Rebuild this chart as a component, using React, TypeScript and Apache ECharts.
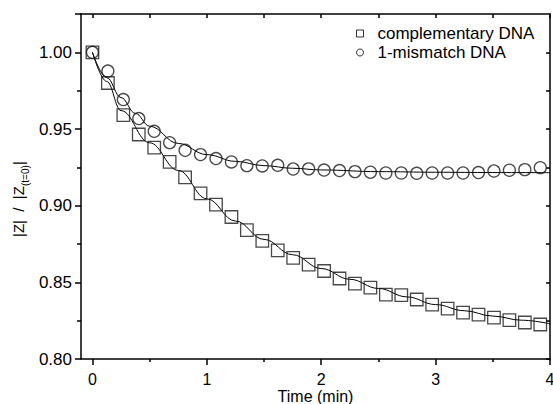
import React, { useEffect, useRef } from "react";
import * as echarts from "echarts";

// measurement times (min)
const times = [0, 0.135, 0.27, 0.405, 0.54, 0.675, 0.81, 0.945, 1.08, 1.215, 1.35, 1.485, 1.62, 1.755, 1.89, 2.025, 2.16, 2.295, 2.43, 2.565, 2.7, 2.835, 2.97, 3.105, 3.24, 3.375, 3.51, 3.645, 3.78, 3.915];
// complementary DNA (squares)
const compValues = [1.0, 0.98, 0.959, 0.9464, 0.9379, 0.9285, 0.9185, 0.908, 0.9007, 0.8926, 0.884, 0.877, 0.8709, 0.8659, 0.8616, 0.8574, 0.8525, 0.8492, 0.8466, 0.842, 0.8416, 0.8388, 0.8355, 0.8329, 0.8303, 0.829, 0.827, 0.8253, 0.8238, 0.8225];
// 1-mismatch DNA (circles)
const mismatchValues = [1.0, 0.9878, 0.9692, 0.9568, 0.9485, 0.9411, 0.9361, 0.9333, 0.9307, 0.9285, 0.9261, 0.9259, 0.9263, 0.9239, 0.924, 0.9232, 0.9229, 0.9222, 0.9218, 0.9213, 0.9213, 0.9211, 0.9213, 0.9213, 0.9213, 0.9216, 0.9226, 0.9231, 0.9235, 0.9248];
// fitted curves
const compFitT = [0, 0.125, 0.25, 0.5, 0.75, 1, 1.25, 1.5, 1.75, 2, 2.25, 2.5, 2.75, 3, 3.25, 3.5, 3.75, 4];
const compFitY = [1.0, 0.981, 0.962, 0.941, 0.923, 0.9045, 0.89, 0.878, 0.868, 0.859, 0.852, 0.846, 0.8405, 0.8355, 0.8315, 0.828, 0.8253, 0.823];
const misFitT = [0, 0.125, 0.25, 0.375, 0.5, 0.75, 1, 1.25, 1.5, 1.75, 2, 2.5, 3, 3.5, 4];
const misFitY = [1.0, 0.9835, 0.9705, 0.9602, 0.9518, 0.9406, 0.9333, 0.9289, 0.9261, 0.9244, 0.9233, 0.9222, 0.9218, 0.9216, 0.9215];

// axis ticks
const xMajor = [0, 1, 2, 3, 4];
const xMinor = [0.5, 1.5, 2.5, 3.5];
const yMajor = [0.8, 0.85, 0.9, 0.95, 1.0];
const yMinor = [0.825, 0.875, 0.925, 0.975];

const FONT = "Liberation Sans, Arial, Helvetica, sans-serif";
const X_MIN = -0.1, X_MAX = 4, Y_MIN = 0.8, Y_MAX = 1.025;

function zip(a: number[], b: number[]) {
  return a.map((v, i) => [v, b[i]]);
}

export default function App() {
  const ref = useRef<HTMLDivElement>(null);
  useEffect(() => {
    if (!ref.current) return;
    const chart = echarts.init(ref.current, undefined, { renderer: "svg" });
    const lineStyle = { color: "#000", width: 1.5 };
    const baseX = (extra: any) => ({
      type: "value",
      min: X_MIN,
      max: X_MAX,
      splitLine: { show: false },
      ...extra,
    });
    const baseY = (extra: any) => ({
      type: "value",
      min: Y_MIN,
      max: Y_MAX,
      splitLine: { show: false },
      ...extra,
    });
    const option: any = {
      animation: false,
      backgroundColor: "#fff",
      grid: { left: 81, right: 3, top: 14, bottom: 45, containLabel: false, outerBoundsMode: "none" },
      legend: {
        orient: "vertical",
        left: 351,
        top: 19,
        itemWidth: 7,
        itemHeight: 7,
        itemGap: 0,
        data: [
          { name: "complementary DNA", icon: "rect" },
          { name: "1-mismatch DNA", icon: "circle" },
        ],
        itemStyle: { color: "transparent", borderColor: "#000", borderWidth: 1 },
        textStyle: { fontSize: 17, fontFamily: FONT, color: "#000", lineHeight: 19, padding: [0, 0, 0, 9] },
      },
      xAxis: [
        baseX({
          position: "bottom",
          name: "Time (min)",
          nameLocation: "middle",
          nameGap: 31,
          nameMoveOverlap: false,
          nameTextStyle: { fontSize: 16, fontFamily: FONT, color: "#000", lineHeight: 13 },
          axisLine: { show: true, onZero: false, lineStyle },
          axisTick: { show: true, inside: false, length: 6, lineStyle, customValues: xMajor },
          axisLabel: { show: true, margin: 14, fontSize: 16, lineHeight: 13, fontFamily: FONT, color: "#000", customValues: xMajor, formatter: (v: number) => String(v) },
        }),
        baseX({
          position: "bottom",
          axisLine: { show: false, onZero: false },
          axisTick: { show: true, inside: false, length: 3, lineStyle, customValues: xMinor },
          axisLabel: { show: false },
        }),
        baseX({
          position: "top",
          axisLine: { show: true, onZero: false, lineStyle },
          axisTick: { show: true, inside: true, length: 4, lineStyle, customValues: xMajor.concat(xMinor) },
          axisLabel: { show: false },
        }),
      ],
      yAxis: [
        baseY({
          position: "left",
          axisLine: { show: true, onZero: false, lineStyle },
          axisTick: { show: true, inside: false, length: 6, lineStyle, customValues: yMajor.concat([Y_MAX]) },
          axisLabel: { show: true, margin: 9, fontSize: 17, fontFamily: FONT, color: "#000", customValues: yMajor, formatter: (v: number) => v.toFixed(2) },
        }),
        baseY({
          position: "left",
          axisLine: { show: false, onZero: false },
          axisTick: { show: true, inside: false, length: 4, lineStyle, customValues: yMinor },
          axisLabel: { show: false },
        }),
        baseY({
          position: "right",
          axisLine: { show: true, onZero: false, lineStyle },
          axisTick: { show: true, inside: true, length: 4, lineStyle, customValues: yMajor.concat(yMinor) },
          axisLabel: { show: false },
        }),
      ],
      series: [
        {
          type: "line",
          name: "fit-comp",
          data: zip(compFitT, compFitY),
          smooth: 0.4,
          smoothMonotone: "x",
          showSymbol: false,
          symbol: "none",
          lineStyle: { color: "#000", width: 1 },
          silent: true,
          z: 1,
        },
        {
          type: "line",
          name: "fit-mis",
          data: zip(misFitT, misFitY),
          smooth: 0.4,
          smoothMonotone: "x",
          showSymbol: false,
          symbol: "none",
          lineStyle: { color: "#000", width: 1 },
          silent: true,
          z: 1,
        },
        {
          type: "scatter",
          name: "complementary DNA",
          data: zip(times, compValues),
          symbol: "rect",
          symbolSize: 12.5,
          itemStyle: { color: "transparent", borderColor: "#1a1a1a", borderWidth: 1.3 },
          z: 3,
        },
        {
          type: "scatter",
          name: "1-mismatch DNA",
          data: zip(times, mismatchValues),
          symbol: "circle",
          symbolSize: 12,
          itemStyle: { color: "transparent", borderColor: "#1a1a1a", borderWidth: 1.3 },
          z: 3,
        },
      ],
      graphic: [
        {
          type: "group",
          x: 18.5,
          y: 237,
          rotation: Math.PI / 2,
          children: [
            {
              type: "text",
              x: 0,
              y: 0,
              style: { text: "|Z|  /  |Z", fontSize: 15, fontFamily: FONT, fill: "#000", align: "left", verticalAlign: "middle" },
            },
            {
              type: "text",
              x: 51,
              y: 6.5,
              style: { text: "(t=0)", fontSize: 10, fontFamily: FONT, fill: "#000", align: "left", verticalAlign: "middle" },
            },
            {
              type: "text",
              x: 72,
              y: 0,
              style: { text: "|", fontSize: 15, fontFamily: FONT, fill: "#000", align: "left", verticalAlign: "middle" },
            },
          ],
        },
      ],
    };
    chart.setOption(option);
    return () => chart.dispose();
  }, []);
  return (
    <div
      ref={ref}
      style={{ position: "fixed", left: 0, top: 0, width: 553, height: 404, background: "#fff" }}
    />
  );
}
